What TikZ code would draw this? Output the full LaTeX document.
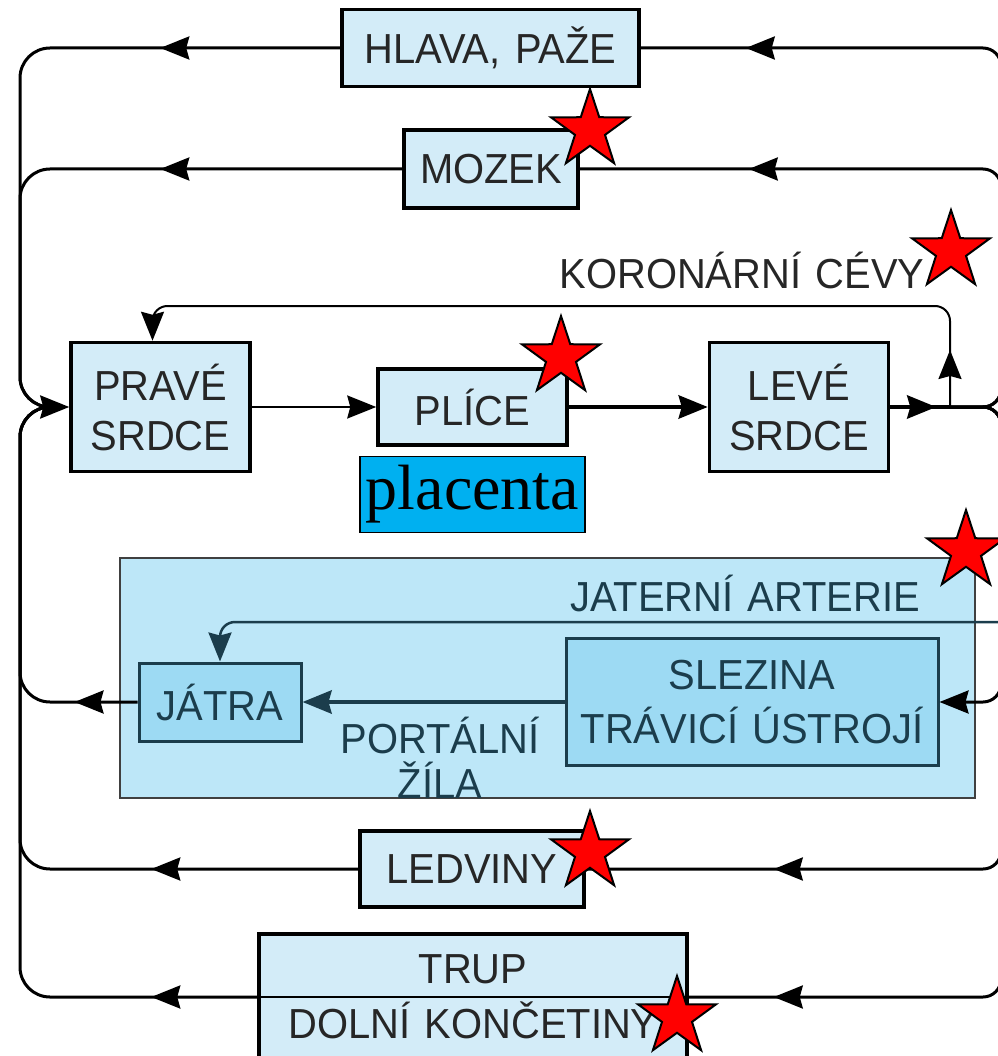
\documentclass[tikz,border=0pt]{standalone}
\usepackage{fontspec}
\usepackage{tikz}
\usetikzlibrary{arrows.meta,positioning,shapes.geometric,decorations.markings}
\newfontfamily\organfont{Liberation Sans}[FakeStretch=0.95,WordSpace=1.3]
\newfontfamily\placentafont{Liberation Serif}
\definecolor{organfill}{HTML}{D3ECF8}
\definecolor{liverfill}{HTML}{BDE7F8}
\definecolor{gutfill}{HTML}{9DDAF3}
\definecolor{guttext}{HTML}{1B3D4C}
\definecolor{labelgray}{HTML}{262626}
\definecolor{placentablue}{HTML}{00B0F0}

\tikzset{
  flowtip/.tip={Stealth[length=29pt,width=23pt,inset=3pt]},
  organ/.style={draw=black, line width=3.5pt, fill=organfill, text=labelgray,
    inner sep=0pt, align=center, font=\organfont\fontsize{42}{50}\selectfont},
  gutorgan/.style={organ, draw=guttext, line width=3pt, fill=gutfill, text=guttext},
  caption/.style={text=labelgray, inner sep=0pt, align=center,
    font=\organfont\fontsize{42}{45}\selectfont},
  vessel/.style={line width=3pt, line join=round},
  tipat/.style={postaction={decorate}, decoration={markings,
    mark=at position #1 with {\arrow{flowtip}}}},
  redstar/.style={star, star points=5, star point ratio=2.6, minimum size=82pt,
    inner sep=0pt, fill=red, draw=black, line width=2pt},
}

\begin{document}
\begin{tikzpicture}[x=1pt, y=-1pt, >=flowtip]
  \useasboundingbox (0,0) rectangle (997,1056);
  % trunk points
  \coordinate (venaC) at (20,407);
  \coordinate (aoR) at (1001,407);
  \coordinate (aoA) at (950,407);
  \coordinate (korTop) at (950,306);
  \coordinate (hepA) at (1001,622);

  \node (liver) [draw=black!75, line width=2pt, fill=liverfill, minimum width=855pt,
    minimum height=240pt, inner sep=0pt] at (547.5,678) {};

  \node (hlava) [organ, minimum width=297pt, minimum height=77pt] at (490.5,48) {HLAVA, PAŽE};
  \node (mozek) [organ, minimum width=174pt, minimum height=78pt] at (491,169) {MOZEK};
  \node (prave) [organ, minimum width=179pt, minimum height=129pt] at (160.5,407) {PRAVÉ\\SRDCE};
  \node (plice) [organ, minimum width=189pt, minimum height=76pt] at (472.5,407) {PLÍCE};
  \node (leve) [organ, minimum width=179pt, minimum height=129pt, right=139pt of plice] {LEVÉ\\SRDCE};
  \node (placenta) [below=9pt of plice, draw=black, line width=1.5pt, fill=placentablue,
    minimum width=225pt, minimum height=76pt, inner sep=0pt,
    font=\placentafont\fontsize{64}{64}\selectfont] {placenta};
  \node (jatra) [gutorgan, minimum width=162pt, minimum height=78pt] at (220,702) {JÁTRA};
  \node (slezina) [gutorgan, minimum width=372pt, minimum height=127pt, font=\organfont\fontsize{42}{54}\selectfont]
    at (752,702) {SLEZINA\\TRÁVICÍ ÚSTROJÍ};
  \node (ledviny) [organ, minimum width=224pt, minimum height=76pt] at (472,869) {LEDVINY};
  \node (trup) [organ, minimum width=428pt, minimum height=126pt, font=\organfont\fontsize{42}{55}\selectfont]
    at (473,997) {TRUP\\DOLNÍ KONČETINY};

  \node (korLabel) [caption] at (742,270) {KORONÁRNÍ CÉVY};
  \node (hepLabel) [caption, text=guttext] at (745,593) {JATERNÍ ARTERIE};
  \node (portLabel) [caption, text=guttext] at (440,758) {PORTÁLNÍ\\ŽÍLA};

  % venous return, left trunk
  \draw[vessel, rounded corners=30pt, tipat=180pt, ->] (hlava.west) -| (venaC) -- (prave.west);
  \draw[vessel, rounded corners=30pt, tipat=242pt, shorten >=20pt] (mozek.west) -| (venaC) -- (prave.west);
  \draw[vessel, rounded corners=30pt, tipat=63pt, shorten >=20pt] (jatra.west) -| (venaC) -- (prave.west);
  \draw[vessel, rounded corners=30pt, tipat=207pt, shorten >=20pt] (ledviny.west) -| (venaC) -- (prave.west);
  \draw[vessel, rounded corners=30pt, tipat=106pt, shorten >=20pt] (trup.west) -| (venaC) -- (prave.west);

  % heart and lungs
  \draw[vessel, line width=2pt, ->] (prave.east) -- (plice.west);
  \draw[vessel, line width=4.5pt, ->] (plice.east) -- (leve.west);
  \draw[vessel, line width=4.5pt, tipat=46pt] (leve.east) -- (aoA);
  \draw[vessel, line width=2pt, rounded corners=15pt, tipat=57pt, ->]
    (aoA) -- (korTop) -| ([xshift=-8pt]prave.north);

  % arterial supply, right trunk
  \draw[vessel, rounded corners=18pt, tipat=-105pt] (aoA) -| (hlava.east -| aoR) -- (hlava.east);
  \draw[vessel, rounded corners=18pt, tipat=-169pt] (aoA) -| (mozek.east -| aoR) -- (mozek.east);
  \draw[vessel, rounded corners=18pt, ->] (aoA) -| (slezina.east -| aoR) -- (slezina.east);
  \draw[vessel, rounded corners=18pt, tipat=-188pt] (aoA) -| (ledviny.east -| aoR) -- (ledviny.east);
  \draw[vessel, rounded corners=18pt, tipat=-85pt] (aoA) -| (trup.east -| aoR) -- (trup.east);
  \draw[vessel, line width=2.5pt, draw=guttext, rounded corners=15pt, ->] (hepA) -| (jatra.north);
  \draw[vessel, line width=4.5pt, draw=guttext, ->] (slezina.west) -- (jatra.east);
  \draw[vessel, line width=2.5pt] (trup.west) -- (trup.east);

  % stars
  \node (starMozek) [redstar] at (590,130) {};
  \node (starKoronar) [redstar] at (951,251) {};
  \node (starPlice) [redstar] at (561,357) {};
  \node (starJaterni) [redstar] at (966,551) {};
  \node (starLedviny) [redstar] at (590,852) {};
  \node (starTrup) [redstar] at (677,1017) {};
\end{tikzpicture}
\end{document}
